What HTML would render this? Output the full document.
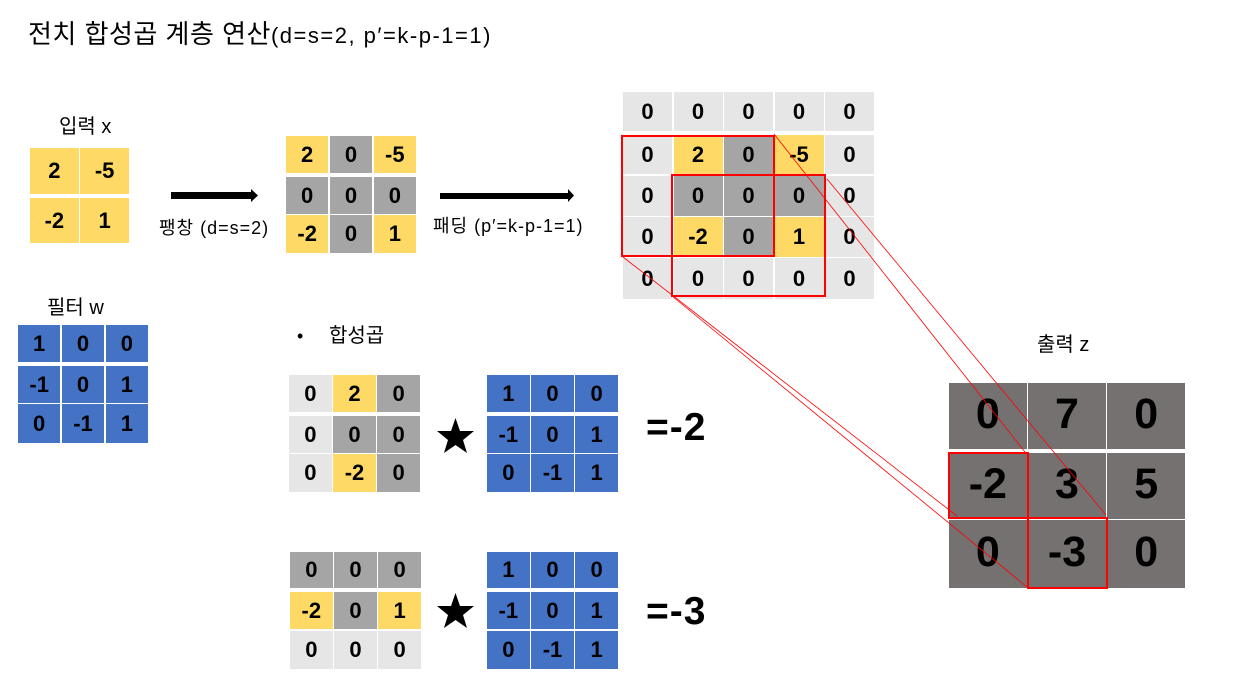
<!DOCTYPE html>
<html lang="ko">
<head>
<meta charset="utf-8">
<title>전치 합성곱 계층 연산</title>
<style>
html,body{margin:0;padding:0;background:#fff}
#stage{position:relative;width:1235px;height:691px;overflow:hidden;background:#fff;font-family:"Liberation Sans","Noto Sans CJK KR",sans-serif;color:#000}
.t{position:absolute;white-space:nowrap;font-weight:400;line-height:1}
.g{position:absolute}
.r{display:grid;column-gap:1.5px;grid-template-columns:repeat(3,1fr)}
.c{display:flex;align-items:center;justify-content:center;font-weight:700;font-size:22px}
.y{background:#FFD966}.a{background:#A5A5A5}.l{background:#E7E6E6}.b{background:#4472C4}.d{background:#767171;font-size:43px;padding-bottom:4px;box-sizing:border-box}
svg{position:absolute;left:0;top:0}
</style>
</head>
<body>
<div id="stage">

<div class="t" style="left:28px;top:21px;font-size:26px"><span style="letter-spacing:.5px">전치 합성곱 계층 연산</span><span style="font-size:22px;letter-spacing:1.5px">(d=s=2, p′=k-p-1=1)</span></div>

<div class="t" style="left:59px;top:117px;font-size:20px">입력 x</div>
<div class="g" style="left:30px;top:148px;width:99px">
<div class="r" style="grid-template-columns:1fr 1fr;height:46px;margin-bottom:4px"><div class="c y">2</div><div class="c y">-5</div></div>
<div class="r" style="grid-template-columns:1fr 1fr;height:45px"><div class="c y">-2</div><div class="c y">1</div></div>
</div>

<div class="t" style="left:159px;top:219px;font-size:18px;letter-spacing:1px">팽창 (d=s=2)</div>
<div class="g" style="left:286px;top:136px;width:130px">
<div class="r" style="height:37px;margin-bottom:4px"><div class="c y">2</div><div class="c a">0</div><div class="c y">-5</div></div>
<div class="r" style="height:37px;margin-bottom:1px"><div class="c a">0</div><div class="c a">0</div><div class="c a">0</div></div>
<div class="r" style="height:38px"><div class="c y">-2</div><div class="c a">0</div><div class="c y">1</div></div>
</div>

<div class="t" style="left:433px;top:217px;font-size:18px;letter-spacing:1px">패딩 (p′=k-p-1=1)</div>
<div class="g" style="left:623px;top:92px;width:251px">
<div class="r" style="grid-template-columns:repeat(5,1fr);height:39px;margin-bottom:4px"><div class="c l">0</div><div class="c l">0</div><div class="c l">0</div><div class="c l">0</div><div class="c l">0</div></div>
<div class="r" style="grid-template-columns:repeat(5,1fr);height:39px;margin-bottom:2px"><div class="c l">0</div><div class="c y">2</div><div class="c a">0</div><div class="c y">-5</div><div class="c l">0</div></div>
<div class="r" style="grid-template-columns:repeat(5,1fr);height:40px;margin-bottom:1px"><div class="c l">0</div><div class="c a">0</div><div class="c a">0</div><div class="c a">0</div><div class="c l">0</div></div>
<div class="r" style="grid-template-columns:repeat(5,1fr);height:40px;margin-bottom:1px"><div class="c l">0</div><div class="c y">-2</div><div class="c a">0</div><div class="c y">1</div><div class="c l">0</div></div>
<div class="r" style="grid-template-columns:repeat(5,1fr);height:41px"><div class="c l">0</div><div class="c l">0</div><div class="c l">0</div><div class="c l">0</div><div class="c l">0</div></div>
</div>

<div class="t" style="left:47px;top:298px;font-size:20px">필터 w</div>
<div class="g" style="left:18px;top:325px;width:130px">
<div class="r" style="height:37px;margin-bottom:4px"><div class="c b">1</div><div class="c b">0</div><div class="c b">0</div></div>
<div class="r" style="height:37px;margin-bottom:1px"><div class="c b">-1</div><div class="c b">0</div><div class="c b">1</div></div>
<div class="r" style="height:39px"><div class="c b">0</div><div class="c b">-1</div><div class="c b">1</div></div>
</div>

<div class="t" style="left:297px;top:327px;font-size:18px">•</div>
<div class="t" style="left:329px;top:326px;font-size:20px">합성곱</div>

<div class="g" style="left:289px;top:375px;width:131px">
<div class="r" style="height:37px;margin-bottom:4px"><div class="c l">0</div><div class="c y">2</div><div class="c a">0</div></div>
<div class="r" style="height:37px;margin-bottom:1px"><div class="c l">0</div><div class="c a">0</div><div class="c a">0</div></div>
<div class="r" style="height:38px"><div class="c l">0</div><div class="c y">-2</div><div class="c a">0</div></div>
</div>

<div class="g" style="left:487px;top:375px;width:131px">
<div class="r" style="height:37px;margin-bottom:4px"><div class="c b">1</div><div class="c b">0</div><div class="c b">0</div></div>
<div class="r" style="height:37px;margin-bottom:1px"><div class="c b">-1</div><div class="c b">0</div><div class="c b">1</div></div>
<div class="r" style="height:38px"><div class="c b">0</div><div class="c b">-1</div><div class="c b">1</div></div>
</div>

<div class="t" style="left:646px;top:408px;font-size:39px;font-weight:700;letter-spacing:1px">=-2</div>

<div class="g" style="left:290px;top:552px;width:131px">
<div class="r" style="height:36px;margin-bottom:4px"><div class="c a">0</div><div class="c a">0</div><div class="c a">0</div></div>
<div class="r" style="height:37px;margin-bottom:2px"><div class="c y">-2</div><div class="c a">0</div><div class="c y">1</div></div>
<div class="r" style="height:38px"><div class="c l">0</div><div class="c l">0</div><div class="c l">0</div></div>
</div>

<div class="g" style="left:487px;top:552px;width:131px">
<div class="r" style="height:36px;margin-bottom:4px"><div class="c b">1</div><div class="c b">0</div><div class="c b">0</div></div>
<div class="r" style="height:37px;margin-bottom:2px"><div class="c b">-1</div><div class="c b">0</div><div class="c b">1</div></div>
<div class="r" style="height:38px"><div class="c b">0</div><div class="c b">-1</div><div class="c b">1</div></div>
</div>

<div class="t" style="left:646px;top:592px;font-size:39px;font-weight:700;letter-spacing:1px">=-3</div>

<div class="t" style="left:1037px;top:335px;font-size:20px">출력 z</div>
<div class="g" style="left:949px;top:383px;width:236px">
<div class="r" style="height:66px;margin-bottom:4px"><div class="c d">0</div><div class="c d">7</div><div class="c d">0</div></div>
<div class="r" style="height:66px;margin-bottom:1px"><div class="c d">-2</div><div class="c d">3</div><div class="c d">5</div></div>
<div class="r" style="height:68px"><div class="c d">0</div><div class="c d">-3</div><div class="c d">0</div></div>
</div>

<svg width="1235" height="691" viewBox="0 0 1235 691">
<polygon points="171,192 251,192 251,189 258,195.500 251,202 251,199 171,199" fill="#000"/>
<polygon points="440,193 568,193 568,189 574,195.500 568,202 568,199 440,199" fill="#000"/>
<polygon points="455.500,418 460,431 474,431 463,440 467,453 455.500,445 444,453 448,440 437,431 451,431" fill="#000"/>
<polygon points="455.500,593 460,606 474,606 463,615 467,628 455.500,620 444,628 448,615 437,606 451,606" fill="#000"/>
<rect x="622" y="136" width="152" height="120" fill="none" stroke="#f00" stroke-width="2"/>
<rect x="672" y="175" width="153" height="121" fill="none" stroke="#f00" stroke-width="2"/>
<rect x="949" y="453" width="79" height="65" fill="none" stroke="#f00" stroke-width="2"/>
<rect x="1028" y="518" width="79" height="70" fill="none" stroke="#f00" stroke-width="2"/>
<line x1="774" y1="134" x2="1025" y2="452" stroke="#f00" stroke-width="0.800"/>
<line x1="827" y1="179" x2="1106" y2="515" stroke="#f00" stroke-width="0.800"/>
<line x1="623" y1="257" x2="957" y2="516" stroke="#f00" stroke-width="0.800"/>
<line x1="672" y1="296" x2="1027" y2="587" stroke="#f00" stroke-width="0.800"/>
</svg>
</div>
</body>
</html>
